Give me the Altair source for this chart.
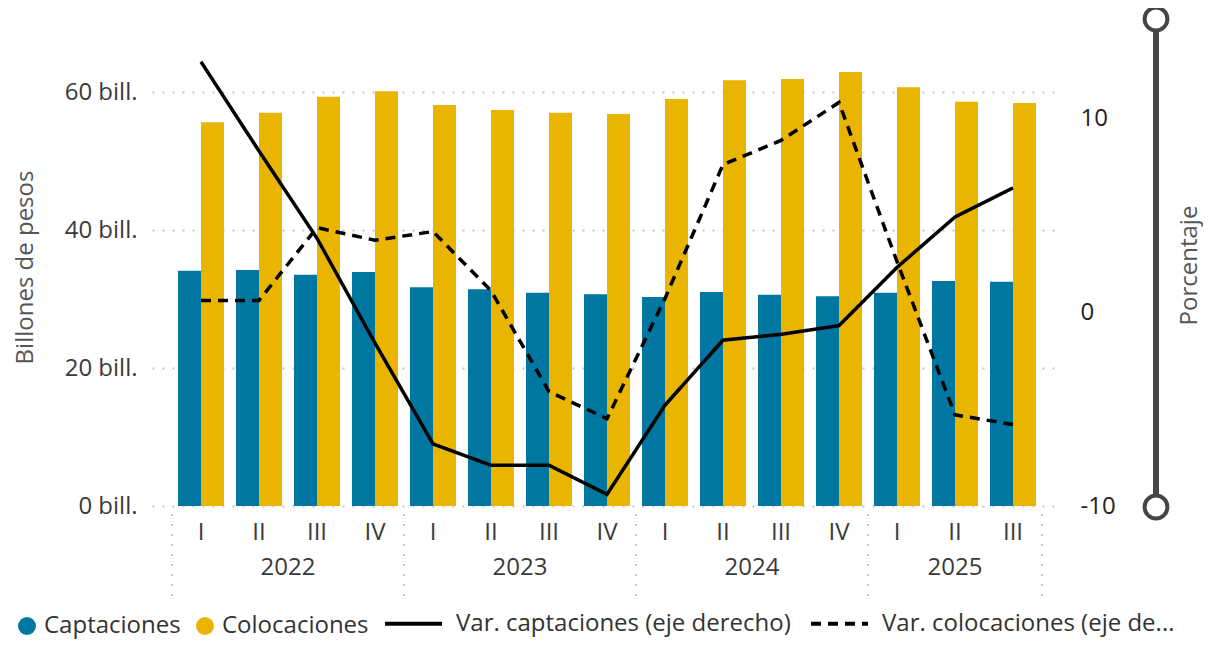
import altair as alt
import pandas as pd

# ---------------- data ----------------
years = ["2022", "2023", "2024", "2025"]
quarters_per_year = [4, 4, 4, 3]
roman = ["I", "II", "III", "IV"]

captaciones = [34.1, 34.2, 33.5, 33.9, 31.7, 31.4, 30.9, 30.7, 30.3, 31.0, 30.6, 30.4, 30.9, 32.6, 32.5]
colocaciones = [55.6, 57.0, 59.3, 60.1, 58.1, 57.4, 57.0, 56.8, 59.0, 61.7, 61.9, 62.9, 60.7, 58.6, 58.4]
var_captaciones = [12.9, 8.3, 3.8, -1.6, -6.8, -7.9, -7.9, -9.4, -4.8, -1.45, -1.15, -0.7, 2.3, 4.9, 6.4]
var_colocaciones = [0.6, 0.6, 4.35, 3.7, 4.15, 1.1, -4.1, -5.5, 0.7, 7.6, 8.85, 10.8, 2.6, -5.3, -5.8]

bar_series = ["Captaciones", "Colocaciones"]
line_series = ["Var. captaciones (eje derecho)", "Var. colocaciones (eje derecho)"]
left_ticks = [0, 20, 40, 60]
right_ticks = [-10, 0, 10]

# ---------------- tables ----------------
quarters = [f"{y}-{roman[i]}" for y, n in zip(years, quarters_per_year) for i in range(n)]
nq = len(quarters)

bars_df = pd.DataFrame({
    "periodo": quarters * 2,
    "serie": [bar_series[0]] * nq + [bar_series[1]] * nq,
    "valor": captaciones + colocaciones,
})
lines_df = pd.DataFrame({
    "periodo": quarters * 2,
    "serie": [line_series[0]] * nq + [line_series[1]] * nq,
    "valor": var_captaciones + var_colocaciones,
})

starts = []
acc = 0
for n in quarters_per_year:
    starts.append(acc)
    acc += n
bounds_df = pd.DataFrame({"pos": starts + [acc]})
years_df = pd.DataFrame({"anio": years, "centro": [s + n / 2 for s, n in zip(starts, quarters_per_year)]})
one = pd.DataFrame({"k": [0]})

# ---------------- layout ----------------
W, H = 903, 483
FONT = "Open Sans"
BLUE, YELLOW = "#0077A0", "#EAB500"
GRIDC = "#C8C6C4"
SLIDER = "#484644"

band = alt.Scale(type="band", domain=quarters, paddingInner=0.2069, paddingOuter=0.3879, align=0.5778)
qscale = alt.Scale(domain=[0, acc], range=[20, 890], nice=False, zero=False)

bars = alt.Chart(bars_df).mark_bar().encode(
    x=alt.X("periodo:N", scale=band, sort=quarters,
            axis=alt.Axis(title=None, labelExpr="split(datum.value, '-')[1]", labelAngle=0,
                          labelFontSize=24, labelColor="#3A3A3A", labelPadding=14,
                          ticks=False, domain=False, grid=False, labelFont=FONT)),
    xOffset=alt.XOffset("serie:N", scale=alt.Scale(domain=bar_series, paddingInner=0, paddingOuter=0)),
    y=alt.Y("valor:Q", scale=alt.Scale(domain=[0, 70], nice=False),
            axis=alt.Axis(title="Billones de pesos", values=left_ticks, labelExpr="datum.value + ' bill.'",
                          labelFontSize=24, labelColor="#3A3A3A", labelPadding=15, ticks=False, tickSize=0,
                          domain=False, grid=True, gridColor=GRIDC, gridDash=[2, 8], gridWidth=2,
                          titleFontSize=24, titleFontWeight="normal", titleColor="#555555",
                          titleAngle=270, titleX=-127, titleY=244, titleAlign="center",
                          titleBaseline="middle", labelFont=FONT, titleFont=FONT)),
    color=alt.Color("serie:N", scale=alt.Scale(domain=bar_series, range=[BLUE, YELLOW]),
                    legend=alt.Legend(title=None, orient="none", legendX=-137, legendY=591,
                                      direction="horizontal", symbolType="circle", symbolSize=324,
                                      symbolOpacity=1, labelFontSize=24, labelColor="#333333",
                                      labelOffset=5, columnPadding=12, padding=0, labelFont=FONT)),
)

lines = alt.Chart(lines_df).mark_line(strokeWidth=3.5, color="black").encode(
    x=alt.X("periodo:N", scale=band, sort=quarters, axis=None),
    y=alt.Y("valor:Q", scale=alt.Scale(domain=[-10, 14.9], nice=False, zero=False),
            axis=alt.Axis(orient="right", title="Porcentaje", values=right_ticks,
                          labelExpr="'' + datum.value",
                          labelFontSize=24, labelColor="#222222", labelPadding=25, ticks=False, tickSize=0,
                          domain=False, grid=False, titleFontSize=24, titleFontWeight="normal",
                          titleColor="#555555", titleAngle=270, titleX=134, titleY=242,
                          titleAlign="center", titleBaseline="middle", labelFont=FONT, titleFont=FONT)),
    strokeDash=alt.StrokeDash("serie:N", scale=alt.Scale(domain=line_series, range=[[1, 0], [10, 7]]),
                              legend=alt.Legend(title=None, orient="none", legendX=231, legendY=570,
                                                direction="horizontal", symbolType="M-1,0H1",
                                                symbolSize=3249, symbolStrokeWidth=4,
                                                symbolStrokeColor="black", symbolFillColor="transparent",
                                                labelFontSize=24,
                                                labelColor="#333333", labelOffset=12, columnPadding=12,
                                                padding=0, labelLimit=400, labelFont=FONT,
                                                labelExpr="indexof(datum.label, 'colocaciones') >= 0 ? truncate(datum.label, 28, 'right', '...') : datum.label")),
)

separators = alt.Chart(bounds_df).mark_rule(color=GRIDC, strokeWidth=2, strokeDash=[2, 8]).encode(
    x=alt.X("pos:Q", scale=qscale, axis=None),
    y=alt.value(H + 8),
    y2=alt.value(H + 92),
)

year_text = alt.Chart(years_df).mark_text(fontSize=24, color="#3A3A3A", baseline="middle", font=FONT).encode(
    x=alt.X("centro:Q", scale=qscale, axis=None),
    y=alt.value(H + 62),
    text="anio:N",
)

slider_line = alt.Chart(one).mark_rule(color=SLIDER, strokeWidth=6).encode(
    x=alt.value(1004), y=alt.value(-4), y2=alt.value(484)
)
slider_top = alt.Chart(one).mark_point(shape="circle", filled=True, fill="white", stroke=SLIDER,
                                       strokeWidth=4, size=520, opacity=1).encode(
    x=alt.value(1004), y=alt.value(-4)
)
slider_bottom = alt.Chart(one).mark_point(shape="circle", filled=True, fill="white", stroke=SLIDER,
                                          strokeWidth=4, size=520, opacity=1).encode(
    x=alt.value(1004), y=alt.value(484)
)

chart = alt.layer(
    bars, lines, separators, year_text, slider_line, slider_top, slider_bottom
).resolve_scale(
    x="independent", y="independent", color="independent", strokeDash="independent"
).properties(
    width=W, height=H,
    autosize=alt.AutoSizeParams(type="none"),
    padding={"left": 144, "top": 15, "right": 148, "bottom": 134},
).configure(font=FONT).configure_view(stroke=None)

chart.save("out.html", embed_options={"renderer": "svg", "actions": False})
